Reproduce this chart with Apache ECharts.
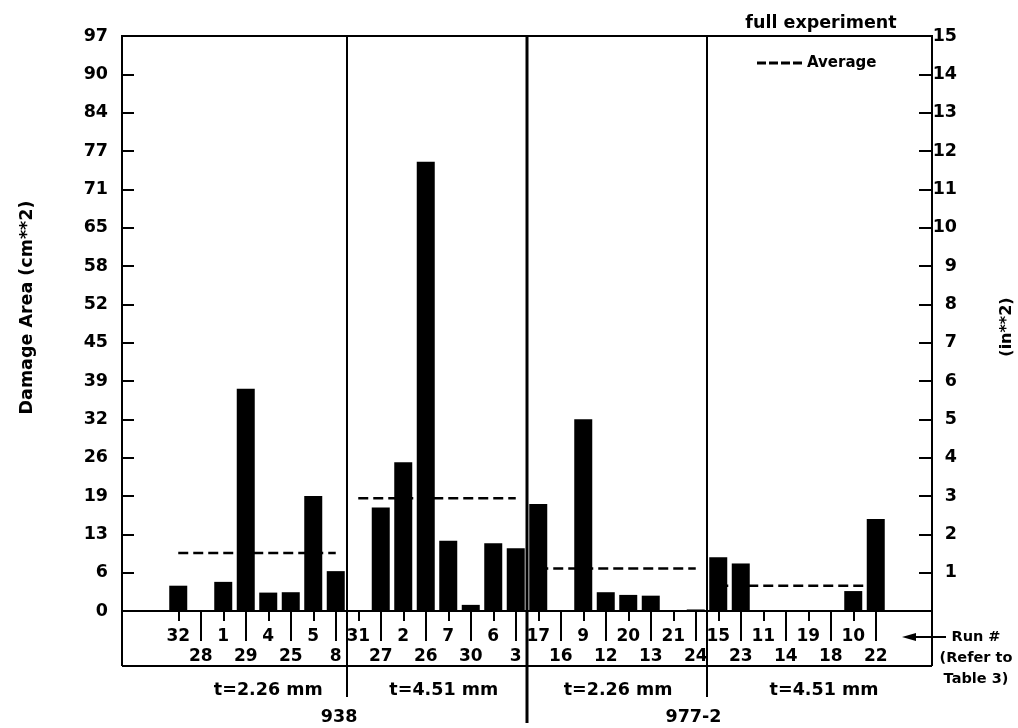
<!DOCTYPE html>
<html><head><meta charset="utf-8">
<script src="https://cdn.jsdelivr.net/npm/echarts@6/dist/echarts.min.js"></script>
<style>html,body{margin:0;padding:0;background:#fff}#c{width:1018px;height:728px}</style>
</head><body><div id="c"></div>
<script>
// Damage area per run, in in**2 (left axis labels show cm**2 = in**2 * 6.4516)
const CM2_PER_IN2 = 6.4516;
const runs938Thin   = ['32','28','1','29','4','25','5','8'];
const area938Thin   = [0.66, 0, 0.76, 5.80, 0.48, 0.49, 3.00, 1.04];
const runs938Thick  = ['31','27','2','26','7','30','6','3'];
const area938Thick  = [0, 2.70, 3.88, 11.72, 1.83, 0.16, 1.77, 1.64];
const runs977Thin   = ['17','16','9','12','20','13','21','24'];
const area977Thin   = [2.79, 0, 5.00, 0.49, 0.42, 0.40, 0, 0.04];
const runs977Thick  = ['15','23','11','14','19','18','10','22'];
const area977Thick  = [1.40, 1.24, 0, 0, 0, 0, 0.52, 2.40];
const groupAverages = [1.51, 2.94, 1.11, 0.66];
const groupLabels   = ['t=2.26 mm', 't=4.51 mm', 't=2.26 mm', 't=4.51 mm'];
const panelLabels   = ['938', '977-2'];
const runNote       = ['Run #', '(Refer to', 'Table 3)'];

const LEAD = 2, TAIL = 2;
const FONT = 'DejaVu Sans';
const groups = [
  {runs: runs938Thin,  area: area938Thin},
  {runs: runs938Thick, area: area938Thick},
  {runs: runs977Thin,  area: area977Thin},
  {runs: runs977Thick, area: area977Thick}
];
const categories = [], barData = [];
for (let i = 0; i < LEAD; i++) { categories.push(''); barData.push(null); }
groups.forEach(g => g.runs.forEach((r, j) => { categories.push(r); barData.push(g.area[j]); }));
for (let i = 0; i < TAIL; i++) { categories.push(''); barData.push(null); }
const N = categories.length;

const avgSeries = groups.map((g, gi) => {
  const d = new Array(N).fill(null);
  const start = LEAD + gi * g.runs.length;
  for (let j = 0; j < g.runs.length; j++) d[start + j] = groupAverages[gi];
  return {
    name: 'Average', type: 'line', xAxisIndex: 0, yAxisIndex: 0, data: d,
    symbol: 'none', silent: true, z: 5,
    lineStyle: {color: '#000', width: 2.5, type: [10, 5]},
    itemStyle: {color: '#000'}
  };
});

const chart = echarts.init(document.getElementById('c'));
const txt = (size) => ({color: '#000', fontFamily: FONT, fontSize: size || 17.5, fontWeight: 'bold'});

chart.setOption({
  animation: false,
  backgroundColor: '#fff',
  grid: {left: 122, right: 86, top: 36, bottom: 117, show: true, borderColor: '#000', borderWidth: 2,
         backgroundColor: 'transparent', containLabel: false, outerBoundsMode: 'none'},
  title: {text: 'full experiment', left: 821, top: 14, textAlign: 'center', padding: 0,
          textStyle: txt(17.5)},
  legend: {data: ['Average'], left: 757, top: 55.5, padding: 0, itemWidth: 45, itemHeight: 3,
           symbolKeepAspect: false,
           icon: 'path://M0,0H9V1H0Z M12,0H21V1H12Z M24,0H33V1H24Z M36,0H45V1H36Z',
           itemStyle: {color: '#000'},
           textStyle: txt(15)},
  xAxis: [
    {type: 'category', data: categories, position: 'bottom',
     axisLine: {show: true, lineStyle: {color: '#000', width: 2}},
     axisTick: {show: true, alignWithLabel: true, length: 10, lineStyle: {color: '#000', width: 2},
                interval: (i, v) => v !== '' && (i - LEAD) % 2 === 0},
     axisLabel: Object.assign({interval: 0, margin: 16, lineHeight: 20, hideOverlap: false,
                formatter: (v, i) => v === '' ? '' : ((i - LEAD) % 2 === 0 ? v : '\n' + v)}, txt(17)),
     splitLine: {show: false}},
    {type: 'category', data: categories, position: 'bottom',
     axisLine: {show: false},
     axisTick: {show: true, alignWithLabel: true, length: 30, lineStyle: {color: '#000', width: 2},
                interval: (i, v) => v !== '' && (i - LEAD) % 2 === 1},
     axisLabel: {show: false}, splitLine: {show: false}},
    {type: 'value', min: 0, max: N, position: 'bottom', show: false}
  ],
  yAxis: [
    {type: 'value', position: 'left', min: 0, max: 15, interval: 1,
     name: 'Damage Area (cm**2)', nameLocation: 'middle', nameRotate: 90, nameGap: 86,
     nameTextStyle: Object.assign({padding: [0, 0, 0, 32]}, txt(17.5)),
     axisLine: {show: true, lineStyle: {color: '#000', width: 2}},
     axisTick: {show: true, inside: true, length: 12, lineStyle: {color: '#000', width: 2}},
     axisLabel: Object.assign({margin: 14, formatter: v => String(Math.round(v * CM2_PER_IN2))}, txt(17.5)),
     splitLine: {show: false}},
    {type: 'value', position: 'right', min: 0, max: 15, interval: 1,
     name: '(in**2)', nameLocation: 'middle', nameRotate: 90, nameGap: 67,
     nameTextStyle: Object.assign({padding: [0, 7, 0, 0]}, txt(16)),
     axisLine: {show: true, lineStyle: {color: '#000', width: 2}},
     axisTick: {show: true, inside: true, length: 13, lineStyle: {color: '#000', width: 2}},
     axisLabel: Object.assign({margin: 25, align: 'right', formatter: v => v === 0 ? '' : String(v)}, txt(17.5)),
     splitLine: {show: false}}
  ],
  series: [
    {name: 'Damage area', type: 'bar', xAxisIndex: 0, yAxisIndex: 0, data: barData,
     barWidth: 18, itemStyle: {color: '#000'}, silent: true}
  ].concat(avgSeries)
});

// Decorations derived from the axes
const px = v => chart.convertToPixel({xAxisIndex: 2}, v);
const py = v => chart.convertToPixel({yAxisIndex: 0}, v);
const yBase = py(0), yTop = py(15);
const xL = px(0), xR = px(N);
const boxB = yBase + 55;
const lineEl = (x1, y1, x2, y2, w) => ({type: 'line', silent: true, z: 10,
  shape: {x1, y1, x2, y2}, style: {stroke: '#000', lineWidth: w || 2}});
const textEl = (t, x, y, size, align) => ({type: 'text', silent: true, z: 10,
  style: {text: t, x, y, fill: '#000', font: 'bold ' + (size || 17.5) + 'px "' + FONT + '"', align: align || 'center', verticalAlign: 'middle'}});
const g = [];
g.push(lineEl(xL, yBase, xL, boxB));
g.push(lineEl(xR, yBase, xR, boxB));
g.push(lineEl(xL, boxB, xR, boxB));
const bounds = [LEAD + 8, LEAD + 16, LEAD + 24];
g.push(lineEl(px(bounds[0]), yTop, px(bounds[0]), yBase + 86, 2));
g.push(lineEl(px(bounds[1]), yTop, px(bounds[1]), yBase + 112, 3));
g.push(lineEl(px(bounds[2]), yTop, px(bounds[2]), yBase + 86, 2));
const groupPos = [6.5, 14.3, 22.05, 31.2];
groupLabels.forEach((t, i) => g.push(textEl(t, px(groupPos[i]), yBase + 79)));
const panelPos = [9.65, 25.4];
panelLabels.forEach((t, i) => g.push(textEl(t, px(panelPos[i]), yBase + 106)));
// Run # arrow
const ay = yBase + 26;
g.push(lineEl(xR - 20, ay, xR + 14, ay, 2));
g.push({type: 'polygon', silent: true, z: 10,
  shape: {points: [[xR - 30, ay], [xR - 16, ay - 4], [xR - 16, ay + 4]]}, style: {fill: '#000'}});
runNote.forEach((t, i) => g.push(textEl(t, xR + 44, ay + i * 21, 14.5)));
chart.setOption({graphic: g});
</script>
</body></html>
